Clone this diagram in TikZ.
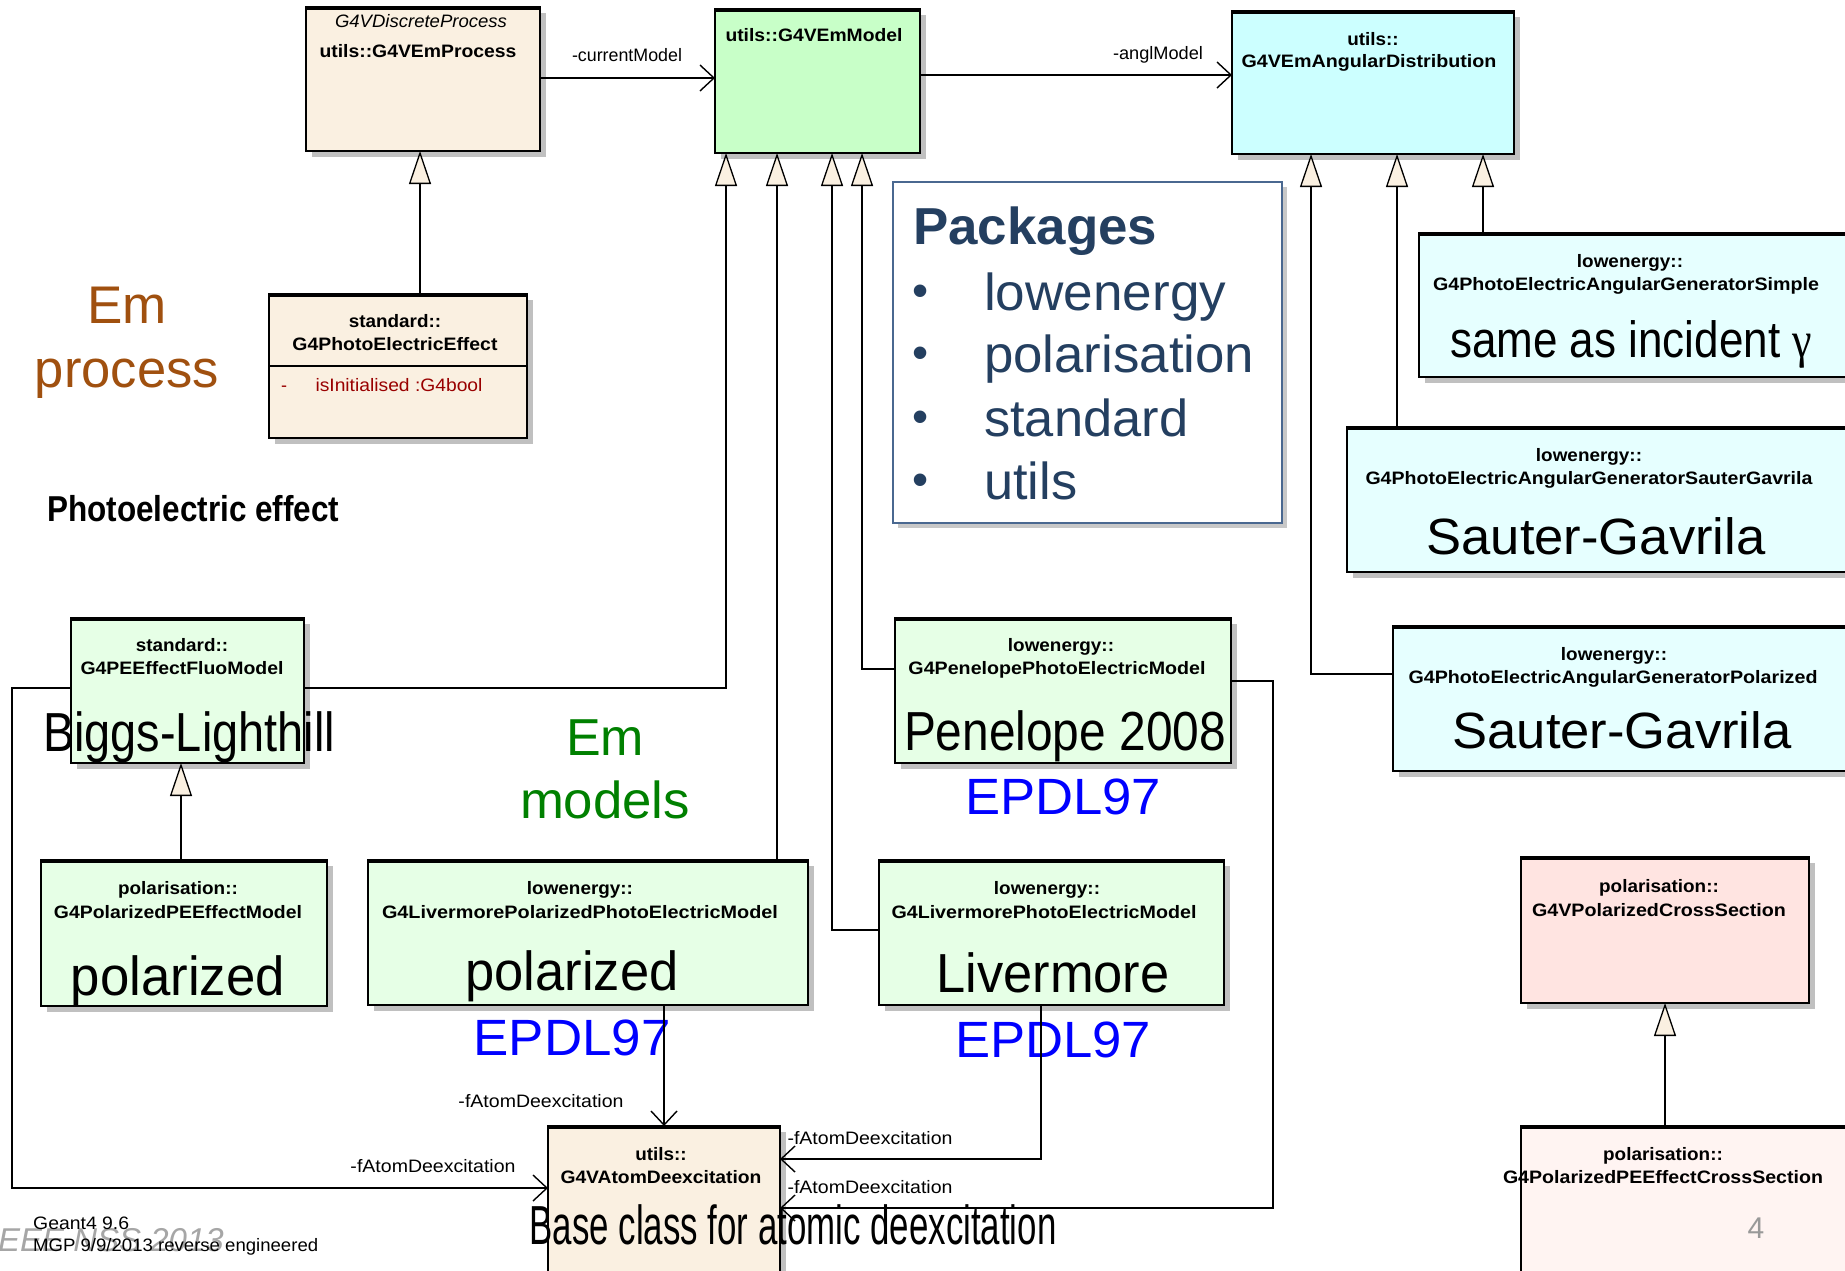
\documentclass[tikz,border=0pt]{standalone}
\usepackage{fontspec}
\setmainfont{Liberation Sans}
\newfontfamily\serifg{Liberation Serif}
\usetikzlibrary{arrows.meta,shadows,calc}
\definecolor{beige}{HTML}{FAF0E1}
\definecolor{mgreen}{HTML}{C8FFC8}
\definecolor{lgreen}{HTML}{E6FFE6}
\definecolor{mcyan}{HTML}{CCFFFF}
\definecolor{lcyan}{HTML}{E6FFFF}
\definecolor{mpink}{HTML}{FFE4E1}
\definecolor{lpink}{HTML}{FFF4F2}
\definecolor{shgray}{HTML}{C0C0C0}
\definecolor{embrown}{HTML}{A0500F}
\definecolor{emgreen}{HTML}{008000}
\definecolor{epdl}{HTML}{0000FF}
\definecolor{pkgtext}{HTML}{243F60}
\definecolor{pkgborder}{HTML}{4A6890}
\definecolor{attrred}{HTML}{990000}
\newcommand\W[2]{\resizebox{#1pt}{\height}{#2}}
\newcommand\sx[1]{\scalebox{1.05}[1]{#1}}
\begin{document}
\begin{tikzpicture}[x=1pt,y=-1pt,
  cls/.style={draw=black, line width=1.6pt, anchor=north west, inner sep=0pt, outer sep=0pt,
     drop shadow={shadow xshift=6pt, shadow yshift=-6pt, fill=shgray, opacity=1}},
  sm/.style={font=\fontsize{18}{20}\selectfont\bfseries, inner sep=0pt, text height=13pt, text depth=3.6pt},
  lbl/.style={font=\fontsize{18}{20}\selectfont, inner sep=0pt, text height=13pt, text depth=3.6pt},
  big/.style={font=\fontsize{55}{62}\selectfont, inner sep=0pt, text height=39.6pt, text depth=11pt},
  mid/.style={font=\fontsize{51}{60}\selectfont, inner sep=0pt, text height=36.7pt, text depth=10.2pt},
  blue97/.style={mid, text=epdl},
  pk/.style={font=\fontsize{52}{60}\selectfont, text=pkgtext, inner sep=0pt, text height=37.4pt, text depth=10.4pt, anchor=west},
  bul/.style={font=\fontsize{46}{50}\selectfont, text=pkgtext, inner sep=0pt},
  gen/.style={line width=1.4pt, -{Triangle[length=33pt,width=22pt,fill=beige,line width=1.3pt]}},
  assoc/.style={line width=1.4pt, -{Straight Barb[length=14pt,width=26pt,line width=1.4pt]}},
]
\useasboundingbox (0,0) rectangle (1845,1270);
\clip (0,0) rectangle (1845,1270);
\fill[white] (0,0) rectangle (1845,1270);

% ---------- class boxes ----------
\node[cls, fill=beige,  minimum width=234pt, minimum height=144pt] (proc)    at (306,7) {};
\node[cls, fill=mgreen, minimum width=205pt, minimum height=144pt] (emmodel) at (715,9) {};
\node[cls, fill=mcyan,  minimum width=282pt, minimum height=143pt] (ang)     at (1232,11) {};
\node[cls, fill=beige,  minimum width=258pt, minimum height=144pt] (pee)     at (269,294) {};
\node[cls, fill=lcyan,  minimum width=441pt, minimum height=144pt] (simple)  at (1419,233) {};
\node[cls, fill=lcyan,  minimum width=513pt, minimum height=145pt] (sg)      at (1347,427) {};
\node[cls, fill=lcyan,  minimum width=467pt, minimum height=145pt] (pol)     at (1393,626) {};
\node[cls, fill=lgreen, minimum width=233pt, minimum height=145pt] (fluo)    at (71,618) {};
\node[cls, fill=lgreen, minimum width=336pt, minimum height=145pt] (pen)     at (895,618) {};
\node[cls, fill=lgreen, minimum width=286pt, minimum height=146pt] (polpe)   at (41,860) {};
\node[cls, fill=lgreen, minimum width=440pt, minimum height=145pt] (livpol)  at (368,860) {};
\node[cls, fill=lgreen, minimum width=345pt, minimum height=145pt] (liv)     at (879,860) {};
\node[cls, fill=mpink,  minimum width=288pt, minimum height=146pt] (vpolcs)  at (1521,857) {};
\node[cls, fill=lpink,  minimum width=339pt, minimum height=170pt] (polpecs) at (1521,1126) {};
\node[cls, fill=beige,  minimum width=232pt, minimum height=170pt] (atom)    at (548,1126) {};
\foreach \n in {proc,emmodel,ang,pee,simple,sg,pol,fluo,pen,polpe,livpol,liv,vpolcs,polpecs,atom}
  \draw[line width=3.4pt] ($(\n.north west)+(0,1)$) -- ($(\n.north east)+(0,1)$);
\draw[line width=1.6pt] ($(pee.north west)+(0,72)$) -- ($(pee.north east)+(0,72)$);

% ---------- packages box ----------
\node[draw=pkgborder, line width=1.5pt, fill=white, anchor=north west, inner sep=0pt,
      minimum width=389pt, minimum height=341pt,
      drop shadow={shadow xshift=5pt, shadow yshift=-5pt, fill=gray!60, opacity=.7}] (pkg) at (892,181) {};
\node[pk, font=\fontsize{52}{60}\selectfont\bfseries] (pkgt) at (913,231) {\W{244}{Packages}};
\node[bul] (b1) at (921,296) {•};
\node[bul] (b2) at (921,358) {•};
\node[bul] (b3) at (921,422) {•};
\node[bul] (b4) at (921,485) {•};
\node[pk] (p1) at (984,297) {\W{242}{lowenergy}};
\node[pk] (p2) at (984,359) {\W{270}{polarisation}};
\node[pk] (p3) at (984,423) {\W{204}{standard}};
\node[pk] (p4) at (984,486) {\W{93}{utils}};

% ---------- small texts in boxes ----------
\node[sm, font=\fontsize{18}{20}\selectfont\itshape] (procst) at (421,23) {\W{172}{G4VDiscreteProcess}};
\node[sm] (procn) at (418,53) {\W{197}{utils::G4VEmProcess}};
\node[sm] (emn) at (814,37) {\W{177}{utils::G4VEmModel}};
\node[sm] (angp) at (1373,41) {\sx{utils::}};
\node[sm] (angn) at (1369,63) {\W{255}{G4VEmAngularDistribution}};
\node[sm] (peep) at (395,323) {\sx{standard::}};
\node[sm] (peen) at (395,346) {\W{205}{G4PhotoElectricEffect}};
\node[lbl, text=attrred] (peem) at (284,387) {-};
\node[lbl, text=attrred] (peea) at (399,387) {\W{167}{isInitialised :G4bool}};
\node[sm] (simp) at (1630,263) {\sx{lowenergy::}};
\node[sm] (simn) at (1626,286) {\W{386}{G4PhotoElectricAngularGeneratorSimple}};
\node[sm] (sgp) at (1589,457) {\sx{lowenergy::}};
\node[sm] (sgn) at (1589,480) {\W{447}{G4PhotoElectricAngularGeneratorSauterGavrila}};
\node[sm] (polp) at (1614,656) {\sx{lowenergy::}};
\node[sm] (poln) at (1613,679) {\W{409}{G4PhotoElectricAngularGeneratorPolarized}};
\node[sm] (fluop) at (182,647) {\sx{standard::}};
\node[sm] (fluon) at (182,670) {\W{203}{G4PEEffectFluoModel}};
\node[sm] (penp) at (1061,647) {\sx{lowenergy::}};
\node[sm] (penn) at (1057,670) {\W{297}{G4PenelopePhotoElectricModel}};
\node[sm] (polpep) at (178,890) {\sx{polarisation::}};
\node[sm] (polpen) at (178,914) {\W{248}{G4PolarizedPEEffectModel}};
\node[sm] (livpolp) at (580,890) {\sx{lowenergy::}};
\node[sm] (livpoln) at (580,914) {\W{396}{G4LivermorePolarizedPhotoElectricModel}};
\node[sm] (livp) at (1047,890) {\sx{lowenergy::}};
\node[sm] (livn) at (1044,914) {\W{305}{G4LivermorePhotoElectricModel}};
\node[sm] (vpolcsp) at (1659,888) {\sx{polarisation::}};
\node[sm] (vpolcsn) at (1659,912) {\W{254}{G4VPolarizedCrossSection}};
\node[sm] (polpecsp) at (1663,1156) {\sx{polarisation::}};
\node[sm] (polpecsn) at (1663,1179) {\W{320}{G4PolarizedPEEffectCrossSection}};
\node[sm] (atomp) at (661,1156) {\sx{utils::}};
\node[sm] (atomn) at (661,1179) {\W{201}{G4VAtomDeexcitation}};

% ---------- large texts ----------
\node[mid] (simb) at (1631,344) {\W{362}{same as incident {\serifg γ}}};
\node[mid] (sgb) at (1596,541) {\W{339}{Sauter-Gavrila}};
\node[mid] (polb) at (1622,735) {\W{339}{Sauter-Gavrila}};
\node[big] (fluob) at (189,737) {\W{292}{Biggs-Lighthill}};
\node[big] (penb) at (1065,736) {\W{322}{Penelope 2008}};
\node[blue97] (pene) at (1063,801) {\W{196}{EPDL97}};
\node[big] (polpeb) at (178,981) {\W{214}{polarized}};
\node[big] (livpolb) at (572,976) {\W{213}{polarized}};
\node[blue97] (livpole) at (572,1042) {\W{197}{EPDL97}};
\node[big] (livb) at (1053,978) {\W{233}{Livermore}};
\node[blue97] (live) at (1053,1044) {\W{196}{EPDL97}};
\node[big] (atomb) at (793,1230) {\W{527}{Base class for atomic deexcitation}};

\node[mid, font=\fontsize{53}{60}\selectfont, text=embrown] (emp1) at (127,310) {Em};
\node[mid, font=\fontsize{53}{60}\selectfont, text=embrown] (emp2) at (127,374) {\W{184}{process}};
\node[mid, font=\fontsize{52}{60}\selectfont, text=emgreen] (emm1) at (605,742) {Em};
\node[mid, font=\fontsize{52}{60}\selectfont, text=emgreen] (emm2) at (605,805) {\W{170}{models}};
\node[anchor=west, inner sep=0pt, font=\fontsize{36}{40}\selectfont\bfseries] (pe) at (47,509) {\W{292}{Photoelectric effect}};

\node[font=\fontsize{30}{34}\selectfont, text=gray!80, inner sep=0pt] (pnum) at (1756,1228) {4};
\node[font=\fontsize{33}{36}\selectfont\itshape, text=gray!70, anchor=east, inner sep=0pt] (nss) at (224,1240) {IEEE NSS 2013};
\node[lbl, anchor=west] (g4v) at (33,1225) {\W{96}{Geant4 9.6}};
\node[lbl, anchor=west] (mgp) at (33,1247) {\W{285}{MGP 9/9/2013 reverse engineered}};

% ---------- connector labels ----------
\node[lbl] (lcur) at (627,57) {\W{110}{-currentModel}};
\node[lbl] (lang) at (1158,55) {\W{90}{-anglModel}};
\node[lbl] (la1) at (541,1103) {\W{165}{-fAtomDeexcitation}};
\node[lbl] (la2) at (433,1168) {\W{165}{-fAtomDeexcitation}};
\node[lbl] (la3) at (870,1140) {\W{165}{-fAtomDeexcitation}};
\node[lbl] (la4) at (870,1189) {\W{165}{-fAtomDeexcitation}};

% ---------- connector end points ----------
\coordinate (t1) at ($(emmodel.south west)+(11,0)$);
\coordinate (t2) at ($(emmodel.south west)+(62,0)$);
\coordinate (t3) at ($(emmodel.south west)+(117,0)$);
\coordinate (t4) at ($(emmodel.south west)+(147,0)$);
\coordinate (a1) at ($(ang.south west)+(79,0)$);
\coordinate (a2) at ($(ang.south west)+(165,0)$);
\coordinate (a3) at ($(ang.south west)+(251,0)$);
\coordinate (f0) at ($(fluo.south west)+(110,0)$);
\coordinate (pr0) at ($(proc.south west)+(114,0)$);

% ---------- associations ----------
\draw[assoc] (proc.east |- 0,78) -- (emmodel.west |- 0,78);
\draw[assoc] (emmodel.east |- 0,75) -- (ang.west |- 0,75);
\draw[assoc] (atom.north |- livpol.south) -- (atom.north);
\draw[assoc] (fluo.west |- 0,688) -- ++(-59,0) |- (atom.west |- 0,1188);
\draw[assoc] (liv.south -| 1041,0) |- (atom.east |- 0,1159);
\draw[assoc] (pen.east |- 0,681) -- ++(42,0) |- (atom.east |- 0,1208);

% ---------- generalizations ----------
\draw[gen] (pr0 |- pee.north) -- (pr0);
\draw[gen] (fluo.east |- 0,688) -| (t1);
\draw[gen] (t2 |- livpol.north) -- (t2);
\draw[gen] (liv.west |- 0,930) -| (t3);
\draw[gen] (pen.west |- 0,669) -| (t4);
\draw[gen] (a3 |- simple.north) -- (a3);
\draw[gen] (a2 |- sg.north) -- (a2);
\draw[gen] (pol.west |- 0,674) -| (a1);
\draw[gen] (f0 |- polpe.north) -- (f0);
\draw[gen] (vpolcs.south |- polpecs.north) -- (vpolcs.south);
\end{tikzpicture}
\end{document}
